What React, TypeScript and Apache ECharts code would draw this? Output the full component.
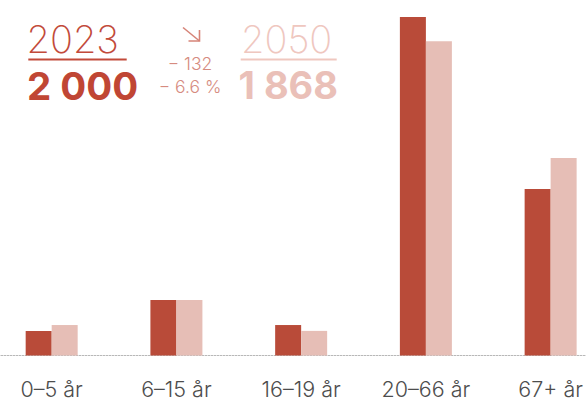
import React, { useEffect, useRef } from "react";
import * as echarts from "echarts";

const categories = ["0–5 år", "6–15 år", "16–19 år", "20–66 år", "67+ år"];
const values2023 = [80, 180, 99, 1100, 541];
const values2050 = [99, 180, 80, 1021, 642];
const years = ["2023", "2050"];
const totals = ["2 000", "1 868"];
const changeAbs = "− 132";
const changePct = "− 6.6 %";

const DARK = "#b94b39";
const LIGHT = "#e6beb6";
const FONT = "Inter, 'Noto Sans', sans-serif";

export default function App() {
  const ref = useRef<HTMLDivElement>(null);
  useEffect(() => {
    if (!ref.current) return;
    const chart = echarts.init(ref.current, null, { renderer: "svg" });
    chart.setOption({
      animation: false,
      backgroundColor: "#ffffff",
      grid: {
        left: -10.7,
        right: -27,
        top: 17,
        bottom: 45.5,
        containLabel: false,
        outerBoundsMode: "none",
      },
      xAxis: {
        type: "category",
        data: categories,
        axisLine: { show: true, lineStyle: { color: "#b8b8b8", type: [1.5, 1.5], width: 1.2 } },
        axisTick: { show: false },
        axisLabel: {
          fontSize: 21.5,
          fontWeight: 300,
          fontFamily: FONT,
          color: "#4d4d4d",
          margin: 22,
        },
      },
      yAxis: {
        type: "value",
        min: 0,
        max: 1100,
        show: false,
        splitLine: { show: false },
      },
      series: [
        {
          name: years[0],
          type: "bar",
          data: values2023,
          barWidth: 26,
          barGap: "0%",
          itemStyle: { color: DARK },
        },
        {
          name: years[1],
          type: "bar",
          data: values2050,
          barWidth: 26,
          barGap: "0%",
          itemStyle: { color: LIGHT },
        },
      ],
      graphic: [
        {
          type: "text",
          left: 26.5,
          top: 20,
          style: { text: years[0], fontSize: 38, fontWeight: 200, fontFamily: FONT, fill: "#c24a3a" },
        },
        {
          type: "rect",
          shape: { x: 28.3, y: 58.5, width: 98.4, height: 2 },
          style: { fill: "#c24a3a" },
        },
        {
          type: "text",
          left: 27,
          top: 66,
          style: { text: totals[0], fontSize: 38.5, fontWeight: 700, fontFamily: FONT, fill: "#c04634" },
        },
        {
          type: "text",
          left: 241,
          top: 20,
          style: { text: years[1], fontSize: 38, fontWeight: 200, fontFamily: FONT, fill: "#efc7bf" },
        },
        {
          type: "rect",
          shape: { x: 240.7, y: 58.5, width: 96, height: 2 },
          style: { fill: "#efc7bf" },
        },
        {
          type: "text",
          left: 238.5,
          top: 66,
          style: { text: totals[1], fontSize: 38, fontWeight: 700, fontFamily: FONT, fill: "#eac0b8" },
        },
        {
          type: "line",
          shape: { x1: 183, y1: 27.5, x2: 199.5, y2: 41 },
          style: { stroke: "#d68478", lineWidth: 1.6 },
        },
        {
          type: "polyline",
          shape: { points: [[188.5, 41], [199.5, 41], [199.5, 30]] },
          style: { stroke: "#d68478", lineWidth: 1.6, fill: null },
        },
        {
          type: "text",
          x: 190,
          y: 63,
          style: { text: changeAbs, fontSize: 17.5, fontWeight: 300, fontFamily: FONT, fill: "#d68b80", align: "center", verticalAlign: "middle" },
        },
        {
          type: "text",
          x: 190,
          y: 86.7,
          style: { text: changePct, fontSize: 17.5, fontWeight: 300, fontFamily: FONT, fill: "#d68b80", align: "center", verticalAlign: "middle" },
        },
      ],
    });
    return () => chart.dispose();
  }, []);
  return (
    <div
      ref={ref}
      style={{ position: "fixed", left: 0, top: 0, width: 586, height: 401 }}
    />
  );
}
